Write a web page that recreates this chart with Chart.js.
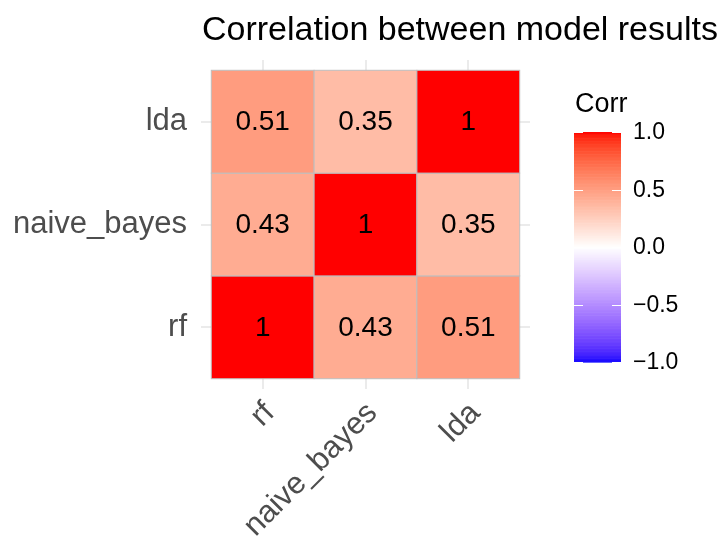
<!DOCTYPE html>
<html>
<head>
<meta charset="utf-8">
<title>Correlation between model results</title>
<script src="https://cdn.jsdelivr.net/npm/chart.js@4.4.1/dist/chart.umd.min.js"></script>
<style>
  html, body { margin: 0; padding: 0; background: #fff; }
  canvas { display: block; }
</style>
</head>
<body>
<canvas id="chart" width="728" height="544"></canvas>
<script>
// model names, in axis order (x left to right, y bottom to top)
const models = ['rf', 'naive_bayes', 'lda'];
// correlation of each model (column) with models[0..2]
const corrRf = [1, 0.43, 0.51];
const corrNaiveBayes = [0.43, 1, 0.35];
const corrLda = [0.51, 0.35, 1];
// colour bar breaks
const legendBreaks = [-1, -0.5, 0, 0.5, 1];
const legendLabels = ['\u22121.0', '\u22120.5', '0.0', '0.5', '1.0'];

const FONT = "'Liberation Sans', Arial, Helvetica, sans-serif";

// blue - white - red diverging scale, interpolated in CIE Lab
const REF = [0.95047, 1, 1.08883];
function toLinear(c) {
  c /= 255;
  return c <= 0.04045 ? c / 12.92 : Math.pow((c + 0.055) / 1.055, 2.4);
}
function fromLinear(c) {
  c = Math.min(1, Math.max(0, c));
  const v = c <= 0.0031308 ? 12.92 * c : 1.055 * Math.pow(c, 1 / 2.4) - 0.055;
  return Math.round(v * 255);
}
function rgbToLab(rgb) {
  const [r, g, b] = rgb.map(toLinear);
  const x = (0.4124 * r + 0.3576 * g + 0.1805 * b) / REF[0];
  const y = (0.2126 * r + 0.7152 * g + 0.0722 * b) / REF[1];
  const z = (0.0193 * r + 0.1192 * g + 0.9505 * b) / REF[2];
  const f = t => t > 0.008856 ? Math.cbrt(t) : 7.787 * t + 16 / 116;
  const fx = f(x), fy = f(y), fz = f(z);
  return [116 * fy - 16, 500 * (fx - fy), 200 * (fy - fz)];
}
function labToRgb(lab) {
  const fy = (lab[0] + 16) / 116, fx = fy + lab[1] / 500, fz = fy - lab[2] / 200;
  const inv = t => t * t * t > 0.008856 ? t * t * t : (t - 16 / 116) / 7.787;
  const x = inv(fx) * REF[0], y = inv(fy) * REF[1], z = inv(fz) * REF[2];
  const r = 3.2406 * x - 1.5372 * y - 0.4986 * z;
  const g = -0.9689 * x + 1.8758 * y + 0.0415 * z;
  const b = 0.0557 * x - 0.2040 * y + 1.0570 * z;
  return `rgb(${fromLinear(r)},${fromLinear(g)},${fromLinear(b)})`;
}
const LAB_LOW = rgbToLab([0, 0, 255]);
const LAB_MID = rgbToLab([255, 255, 255]);
const LAB_HIGH = rgbToLab([255, 0, 0]);
function corrColor(v) {
  const t = Math.min(1, Math.abs(v));
  const end = v < 0 ? LAB_LOW : LAB_HIGH;
  return labToRgb(LAB_MID.map((m, i) => m + (end[i] - m) * t));
}

const tiles = [];
[corrRf, corrNaiveBayes, corrLda].forEach((col, i) => {
  col.forEach((v, j) => tiles.push({ x: i + 1, y: j + 1, v: v }));
});

// filled tiles with their value printed in the middle
const tilePlugin = {
  id: 'tiles',
  beforeDatasetsDraw(chart) {
    const { ctx, scales: { x, y } } = chart;
    ctx.save();
    chart.data.datasets[0].data.forEach(d => {
      const x0 = x.getPixelForValue(d.x - 0.5), x1 = x.getPixelForValue(d.x + 0.5);
      const y0 = y.getPixelForValue(d.y + 0.5), y1 = y.getPixelForValue(d.y - 0.5);
      ctx.fillStyle = corrColor(d.v);
      ctx.fillRect(x0, y0, x1 - x0, y1 - y0);
      ctx.strokeStyle = '#BEBEBE';
      ctx.lineWidth = 1;
      ctx.strokeRect(x0, y0, x1 - x0, y1 - y0);
    });
    ctx.fillStyle = '#000';
    ctx.font = `28px ${FONT}`;
    ctx.textAlign = 'center';
    ctx.textBaseline = 'middle';
    chart.data.datasets[0].data.forEach(d => {
      ctx.fillText(String(d.v), x.getPixelForValue(d.x), y.getPixelForValue(d.y) + 1);
    });
    ctx.restore();
  }
};

// title above the panel and the colour bar legend on the right
const decorPlugin = {
  id: 'decor',
  afterDraw(chart) {
    const { ctx, chartArea } = chart;
    ctx.save();
    ctx.fillStyle = '#000';
    ctx.font = `34px ${FONT}`;
    ctx.textAlign = 'left';
    ctx.textBaseline = 'alphabetic';
    ctx.fillText('Correlation between model results', chartArea.left + 1, 40);

    ctx.font = `27px ${FONT}`;
    ctx.fillText('Corr', 575, 112);

    const barL = 574, barW = 47, barTop = 132, barBot = 362;
    const toY = v => barBot - (v + 1) / 2 * (barBot - barTop);
    const steps = 300;
    for (let k = 0; k < steps; k++) {
      const v0 = -1 + 2 * k / steps, v1 = -1 + 2 * (k + 1) / steps;
      ctx.fillStyle = corrColor((v0 + v1) / 2);
      ctx.fillRect(barL, toY(v1), barW, toY(v0) - toY(v1) + 0.6);
    }
    ctx.strokeStyle = '#fff';
    ctx.lineWidth = 1;
    ctx.font = `23px ${FONT}`;
    ctx.textBaseline = 'middle';
    legendBreaks.forEach((v, i) => {
      const py = Math.round(toY(v)) + 0.5;
      ctx.beginPath();
      ctx.moveTo(barL, py); ctx.lineTo(barL + 9, py);
      ctx.moveTo(barL + barW - 9, py); ctx.lineTo(barL + barW, py);
      ctx.stroke();
      ctx.fillStyle = '#000';
      ctx.fillText(legendLabels[i], 633, toY(v) + 1);
    });
    ctx.restore();
  }
};

const tickFont = { family: FONT, size: 31 };

new Chart(document.getElementById('chart'), {
  type: 'scatter',
  data: {
    datasets: [{ data: tiles, pointRadius: 0, pointHoverRadius: 0 }]
  },
  options: {
    responsive: false,
    animation: false,
    events: [],
    layout: { padding: { left: 0, right: 198, top: 60, bottom: 0 } },
    plugins: { legend: { display: false }, tooltip: { enabled: false } },
    scales: {
      x: {
        type: 'linear', min: 0.4, max: 3.6,
        afterBuildTicks: s => { s.ticks = models.map((m, i) => ({ value: i + 1 })); },
        afterFit: s => { s.height = 155; },
        grid: { color: '#EBEBEB', lineWidth: 2, drawTicks: false },
        border: { display: false },
        ticks: {
          callback: v => models[v - 1],
          autoSkip: false, minRotation: 45, maxRotation: 45,
          padding: 6, labelOffset: 7, color: '#4D4D4D', font: tickFont
        }
      },
      y: {
        type: 'linear', min: 0.4, max: 3.6,
        afterBuildTicks: s => { s.ticks = models.map((m, i) => ({ value: i + 1 })); },
        afterFit: s => { s.width = 201; },
        grid: { color: '#EBEBEB', lineWidth: 2, drawTicks: false },
        border: { display: false },
        ticks: {
          callback: v => models[v - 1],
          autoSkip: false, padding: 14, color: '#4D4D4D', font: tickFont
        }
      }
    }
  },
  plugins: [tilePlugin, decorPlugin]
});
</script>
</body>
</html>
